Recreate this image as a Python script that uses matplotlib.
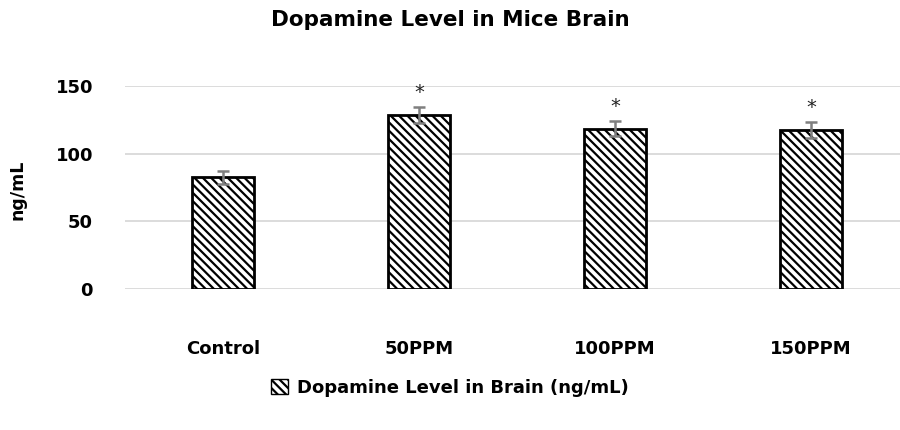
import matplotlib
matplotlib.use("Agg")
import matplotlib.pyplot as plt
from matplotlib.patches import Patch

categories = ["Control", "50PPM", "100PPM", "150PPM"]
values = [82.5, 128.5, 118.3, 117.6]
errors = [4.7, 5.8, 5.6, 5.8]
significant = [False, True, True, True]
yticks = [0, 50, 100, 150]
title = "Dopamine Level in Mice Brain"
ylabel = "ng/mL"
legend_label = "Dopamine Level in Brain (ng/mL)"

plt.rcParams['font.family'] = ['DejaVu Sans']
plt.rcParams['hatch.linewidth'] = 1.6
plt.rcParams['hatch.color'] = 'black'

HATCH = '\\\\\\\\'

fig = plt.figure(figsize=(9, 4.3), dpi=100)
ax = fig.add_axes([125/900, (430-289)/430, 784/900, 203/430])

x = list(range(len(categories)))
ax.bar(x, values, width=0.32, color='white', edgecolor='black', linewidth=2.0,
       hatch=HATCH, zorder=3)
ax.errorbar(x, values, yerr=errors, fmt='none', ecolor='#7f7f7f', elinewidth=1.8,
            capsize=4.6, capthick=1.8, zorder=4)
for xi, v, e, s in zip(x, values, errors, significant):
    if s:
        ax.text(xi, v + e + 11, "*", ha='center', va='center', fontsize=14,
                color='#222222')

ax.set_xlim(-0.5, len(categories) - 0.5)
ax.set_ylim(0, 150)
ax.set_yticks(yticks)
ax.set_xticks(x)
ax.set_xticklabels(categories)
ax.yaxis.grid(True, color='#d9d9d9', linewidth=1.3, zorder=0)
ax.set_axisbelow(True)
for sp in ax.spines.values():
    sp.set_visible(False)
ax.tick_params(axis='both', length=0, labelsize=13, colors='black')
ax.tick_params(axis='x', pad=37)
ax.tick_params(axis='y', pad=23)
for lbl in ax.get_xticklabels() + ax.get_yticklabels():
    lbl.set_fontweight('bold')

fig.text(0.5, 1 - 20/430, title, ha='center', va='center', fontsize=15.5,
         fontweight='bold')
fig.text(17/900, 1 - 190/430, ylabel, ha='center', va='center', rotation=90,
         fontsize=12.5, fontweight='bold')

handle = Patch(facecolor='white', edgecolor='black', hatch=HATCH, linewidth=1.0)
leg = fig.legend([handle], [legend_label], loc='center', bbox_to_anchor=(0.5, 1 - 388/430),
                 frameon=False, handlelength=0.9, handleheight=0.9, handletextpad=0.5,
                 prop={'size': 13, 'weight': 'bold'})

fig.savefig("out.png", dpi=100)
